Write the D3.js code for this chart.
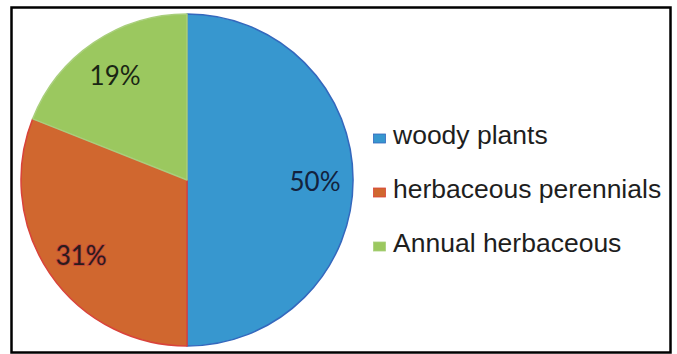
<!DOCTYPE html>
<html>
<head>
<meta charset="utf-8">
<script src="https://cdn.jsdelivr.net/npm/d3@7"></script>
<style>
  html, body { margin: 0; padding: 0; background: #ffffff; }
  svg { display: block; }
</style>
</head>
<body>
<svg id="chart" width="677" height="354"></svg>
<script>
// Plant life-form shares (percent)
const categories = ["woody plants", "herbaceous perennials", "Annual herbaceous"];
const values = [50, 31, 19];
const fillColors = ["#3797cf", "#d0672f", "#9bc85f"];
const edgeColors = ["#3468bd", "#d9433a", "#a9cf7c"];

const svg = d3.select("#chart");

// outer frame
svg.append("rect")
  .attr("x", 11.5).attr("y", 7.5)
  .attr("width", 659).attr("height", 345)
  .attr("fill", "#ffffff")
  .attr("stroke", "#000000")
  .attr("stroke-width", 2.5);

const cx = 187, cy = 180, R = 166;

const pie = d3.pie().sort(null).value(d => d.value);
const arcs = pie(categories.map((c, i) => ({ name: c, value: values[i], i })));

const arc = d3.arc().innerRadius(0).outerRadius(R);
const labelArc = d3.arc().innerRadius(128).outerRadius(128);

const g = svg.append("g").attr("transform", `translate(${cx},${cy})`);

g.selectAll("path.slice")
  .data(arcs)
  .join("path")
  .attr("class", "slice")
  .attr("d", arc)
  .attr("fill", d => fillColors[d.data.i])
  .attr("stroke", d => edgeColors[d.data.i])
  .attr("stroke-width", 1.5)
  .attr("stroke-linejoin", "round");

// percentage labels
const labelFill = ["#13223d", "#2a1c1a", "#1a2614"];
const labelHalo = [null, "#c2433a", null];

g.selectAll("text.pct")
  .data(arcs)
  .join("text")
  .attr("class", "pct")
  .attr("transform", d => `translate(${labelArc.centroid(d)})`)
  .attr("dy", d => d.data.i === 1 ? 3 : 1)
  .attr("text-anchor", "middle")
  .attr("dominant-baseline", "central")
  .attr("font-family", "Lato, 'Open Sans', sans-serif")
  .attr("font-size", 26)
  .attr("fill", d => labelFill[d.data.i])
  .attr("stroke", d => labelHalo[d.data.i] || "none")
  .attr("stroke-width", 1.6)
  .attr("paint-order", "stroke")
  .text(d => d.data.value + "%");

// legend: one row per category, text baselines evenly spaced
const legend = svg.append("g").attr("transform", "translate(373,0)");
const rowY = d3.scalePoint().domain(categories).range([144, 252]);

const rows = legend.selectAll("g.row")
  .data(categories)
  .join("g")
  .attr("class", "row")
  .attr("transform", d => `translate(0,${rowY(d)})`);

rows.append("rect")
  .attr("x", 0.5).attr("y", -10)
  .attr("width", 12).attr("height", 9)
  .attr("fill", (d, i) => fillColors[i])
  .attr("stroke", (d, i) => edgeColors[i])
  .attr("stroke-width", 0.8);

rows.append("text")
  .attr("x", 20)
  .attr("y", 0)
  .attr("font-family", "'Liberation Sans', Arial, sans-serif")
  .attr("font-size", 26.5)
  .attr("fill", "#1e1e1e")
  .text(d => d);
</script>
</body>
</html>
